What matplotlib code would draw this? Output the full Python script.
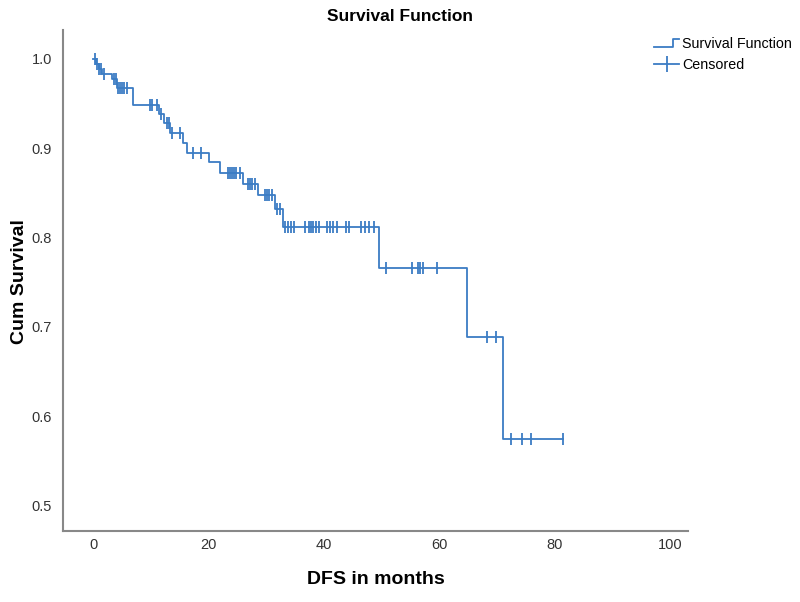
import numpy as np
import matplotlib
matplotlib.use("Agg")
import matplotlib.pyplot as plt
from matplotlib.lines import Line2D
from matplotlib.legend_handler import HandlerBase

plt.rcParams["font.family"] = ["Liberation Sans", "DejaVu Sans"]

# Kaplan-Meier step data
event_times = [0.0, 0.5, 1.0, 1.5, 3.3, 4.2, 6.9, 11.4, 12.3, 13.3, 15.6, 16.3,
               20.1, 22.0, 26.0, 28.6, 31.5, 32.9, 49.6, 64.8, 71.1]
surv_values = [1.0, 0.994, 0.989, 0.983, 0.977, 0.967, 0.948, 0.938, 0.928, 0.917,
               0.906, 0.895, 0.884, 0.872, 0.860, 0.847, 0.832, 0.812, 0.766, 0.689, 0.574]
last_time = 81.5
censor_times = [0.35, 0.7, 1.04, 1.4, 1.9, 3.6, 4.0, 4.3, 4.7, 5.0, 5.4, 5.9,
                9.9, 10.2, 11.1, 11.8, 12.8, 13.2, 13.7, 15.1, 17.3, 18.7,
                23.4, 23.7, 24.1, 24.4, 24.8, 25.5, 26.9, 27.2, 27.6, 28.1,
                29.8, 30.2, 30.5, 31.0, 31.9, 32.4, 33.3, 33.8, 34.3, 34.8,
                36.7, 37.4, 37.8, 38.1, 38.6, 39.2, 40.6, 41.1, 41.6, 42.3,
                43.8, 44.4, 46.4, 47.1, 47.8, 48.7, 50.8, 55.3, 56.3, 56.7,
                57.2, 59.6, 68.3, 69.8, 72.4, 74.4, 75.9, 81.5]
x_ticks = [0, 20, 40, 60, 80, 100]
y_ticks = [0.5, 0.6, 0.7, 0.8, 0.9, 1.0]

color = "#3b7cc4"

fig = plt.figure(figsize=(8, 6.02), dpi=100)
ax = fig.add_axes([0.079, 0.118, 0.781, 0.832])

xs = list(event_times) + [last_time]
ys = list(surv_values) + [surv_values[-1]]
ax.step(xs, ys, where="post", color=color, lw=1.3)

et = np.array(event_times)
sv = np.array(surv_values)
ct = np.array(censor_times)
idx = np.searchsorted(et, ct, side="right") - 1
cs = sv[idx]
ax.plot(ct, cs, linestyle="none", marker="|", markersize=9, mew=1.3, color=color)

ax.set_xlim(-5.2, 103.1)
ax.set_ylim(0.4714, 1.032)
ax.set_xticks(x_ticks)
ax.set_xticklabels([str(v) for v in x_ticks])
ax.set_yticks(y_ticks)
ax.set_yticklabels([f"{v:.1f}" for v in y_ticks])
ax.tick_params(axis="x", length=0, labelsize=10.5, colors="#333333", pad=5)
ax.tick_params(axis="y", length=0, labelsize=10.5, colors="#333333", pad=8)
for s in ["top", "right"]:
    ax.spines[s].set_visible(False)
for s in ["left", "bottom"]:
    ax.spines[s].set_color("#888888")
    ax.spines[s].set_linewidth(1.5)

ax.set_xlabel("DFS in months", fontsize=14, fontweight="bold", labelpad=14)
fig.text(20 / 800, 1 - 282 / 602, "Cum Survival", rotation=90, ha="center",
         va="center", fontsize=14, fontweight="bold")
fig.text(0.5, 0.973, "Survival Function", ha="center", va="center",
         fontsize=12.5, fontweight="bold")


class StepHandler(HandlerBase):
    def create_artists(self, legend, orig_handle, xdescent, ydescent, width,
                       height, fontsize, trans):
        x0 = -xdescent
        y0 = -ydescent
        xd = [x0, x0 + width * 0.75, x0 + width * 0.75, x0 + width]
        yd = [y0 + height * 0.1, y0 + height * 0.1, y0 + height * 0.9, y0 + height * 0.9]
        ln = Line2D(xd, yd, color=color, lw=1.3, transform=trans)
        return [ln]


h1 = Line2D([], [], color=color)
h2 = Line2D([], [], color=color, lw=1.3, marker="|", markersize=11, mew=1.3)
fig.legend([h1, h2], ["Survival Function", "Censored"],
           handler_map={h1: StepHandler()},
           loc="upper left", bbox_to_anchor=(0.805, 0.955), frameon=False,
           fontsize=10.3, handlelength=1.75, handletextpad=0.2, labelspacing=0.5,
           borderpad=0.2)

fig.savefig("out.png", dpi=100)
